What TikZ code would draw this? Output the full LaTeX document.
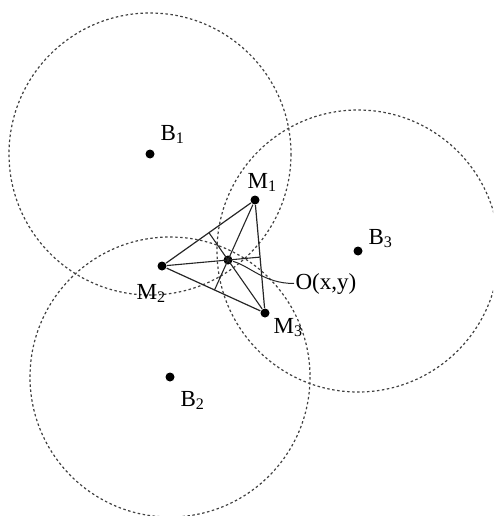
\documentclass[tikz,border=0pt]{standalone}
\usepackage{fontspec}
\setmainfont{Liberation Serif}
\usetikzlibrary{calc}

\begin{document}
\begin{tikzpicture}[x=1pt,y=-1pt,line width=1.2pt,
  dot/.style={circle,fill,inner sep=0pt,minimum size=9pt},
  lbl/.style={anchor=base west,inner sep=1pt,font=\fontsize{23}{26}\selectfont},
  ring/.style={line width=1.2pt,dash pattern=on 2.5pt off 2.5pt,black!75}]
  \useasboundingbox (0,0) rectangle (493,516);
  \clip (0,0) rectangle (493,516);
  % estaciones base
  \node[dot] (B1) at (150,154) {};
  \node[dot] (B2) at (170,377) {};
  \node[dot] (B3) at (358,251) {};
  \draw[ring] (B1.center) circle (141); \draw[ring] (B2.center) circle (140); \draw[ring] (B3.center) circle (141);
  % moviles y posicion
  \node[dot] (M1) at (255,200) {};
  \node[dot] (M2) at (162,266) {};
  \node[dot] (M3) at (265,313) {};
  \node[dot] (O) at (228,260) {};
  % triangulo
  \draw[black!85] (M1) -- (M2) -- (M3) -- (M1);
  % cevianas
  \coordinate (P1) at (intersection of M1--O and M2--M3);
  \coordinate (P2) at (intersection of M2--O and M1--M3);
  \coordinate (P3) at (intersection of M3--O and M1--M2);
  \draw[black!85,line width=1.1pt] (M1) -- (P1); \draw[black!85,line width=1.1pt] (M2) -- (P2); \draw[black!85,line width=1.1pt] (M3) -- (P3);
  % etiquetas
  \node[lbl] (lB1) at (159,140) {B\textsubscript{1}};
  \node[lbl] (lB2) at (179,406) {B\textsubscript{2}};
  \node[lbl] (lB3) at (367,244) {B\textsubscript{3}};
  \node[lbl] (lM1) at (246,188) {M\textsubscript{1}};
  \node[lbl] (lM2) at (135,299) {M\textsubscript{2}};
  \node[lbl] (lM3) at (272,333) {M\textsubscript{3}};
  \node[lbl] (lO) at (294,289) {O(x,y)};
  \draw[black!85,line width=1pt] (lO.west) .. controls +(-30,0) and +(22,6) .. (O);
\end{tikzpicture}
\end{document}
